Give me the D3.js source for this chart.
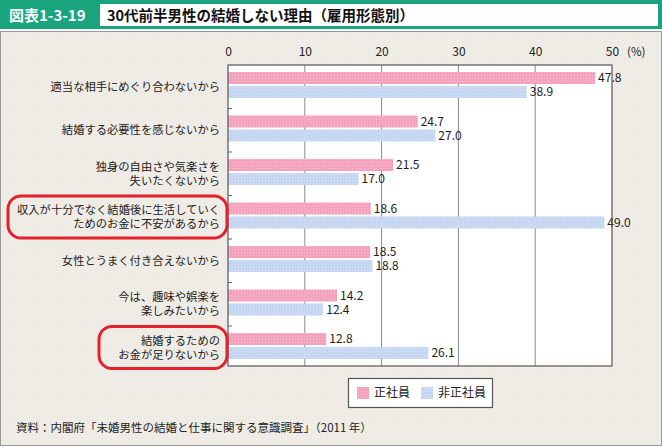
<!DOCTYPE html>
<html>
<head>
<meta charset="utf-8">
<script src="https://cdn.jsdelivr.net/npm/d3@7"></script>
<style>
  html, body { margin: 0; padding: 0; background: #fff; }
  svg { display: block; font-family: "Noto Sans CJK JP", "Noto Sans", sans-serif; }
</style>
</head>
<body>
<svg id="chart"></svg>
<script>
// categories (top to bottom), label lines
const categories = [
  ["適当な相手にめぐり合わないから"],
  ["結婚する必要性を感じないから"],
  ["独身の自由さや気楽さを", "失いたくないから"],
  ["収入が十分でなく結婚後に生活していく", "ためのお金に不安があるから"],
  ["女性とうまく付き合えないから"],
  ["今は、趣味や娯楽を", "楽しみたいから"],
  ["結婚するための", "お金が足りないから"]
]
const seriesNames = ["正社員", "非正社員"]
const regular = [47.8, 24.7, 21.5, 18.6, 18.5, 14.2, 12.8]
const nonRegular = [38.9, 27.0, 17.0, 49.0, 18.8, 12.4, 26.1]
const xTicks = [0, 10, 20, 30, 40, 50]
const highlighted = [3, 6]

const width = 662, height = 447
const colors = ["#f4a2bd", "#c4d6f2"]

const svg = d3.select("#chart").attr("width", width).attr("height", height)

// textures
const defs = svg.append("defs")
const makeDots = (id, base, dot) => {
  const p = defs.append("pattern").attr("id", id)
    .attr("width", 3).attr("height", 3).attr("patternUnits", "userSpaceOnUse")
  p.append("rect").attr("width", 3).attr("height", 3).attr("fill", base)
  p.append("rect").attr("x", 1).attr("y", 1).attr("width", 1).attr("height", 1).attr("fill", dot)
}
makeDots("pinkDots", colors[0], "#f8c4d4")
makeDots("blueDots", colors[1], "#dde7f7")
makeDots("bgDots", "#eeebe5", "#f5f2ee")
const fills = ["url(#pinkDots)", "url(#blueDots)"]

// header
svg.append("rect").attr("x", 0).attr("y", 0).attr("width", width).attr("height", 29).attr("fill", "#19a47e")
svg.append("rect").attr("x", 100).attr("y", 4).attr("width", 558).attr("height", 22).attr("fill", "#fff")
svg.append("text").attr("x", 9).attr("y", 21)
  .attr("fill", "#fff").attr("font-size", 15).attr("font-weight", "bold")
  .text("図表1-3-19")
svg.append("text").attr("x", 107).attr("y", 21)
  .attr("fill", "#111").attr("font-size", 14.5).attr("font-weight", "bold")
  .text("30代前半男性の結婚しない理由（雇用形態別）")

// panel
svg.append("rect").attr("x", 0.5).attr("y", 31.5).attr("width", width - 1).attr("height", height - 33)
  .attr("fill", "url(#bgDots)").attr("stroke", "#9a9a9a")

const plotTop = 65, plotBottom = 366
const x = d3.scaleLinear().domain([0, 50]).range([228, 612])
const y = d3.scaleBand().domain(d3.range(categories.length)).range([plotTop, 369.5])
const barH = 12

const g = svg.append("g")

g.append("rect").attr("x", x(0)).attr("y", plotTop)
  .attr("width", x(50) - x(0)).attr("height", plotBottom - plotTop)
  .attr("fill", "#fff")

// grid lines
g.selectAll(".grid").data(xTicks.slice(1, -1)).join("line")
  .attr("x1", d => x(d)).attr("x2", d => x(d))
  .attr("y1", plotTop).attr("y2", plotBottom)
  .attr("stroke", "#8a8a8a").attr("stroke-width", 1)

// top axis labels
const axis = d3.axisTop(x).tickValues(xTicks).tickSize(0).tickPadding(0).tickFormat(d3.format("d"))
const ax = g.append("g").attr("transform", `translate(0,${plotTop - 9})`).call(axis)
ax.select(".domain").remove()
ax.selectAll("text").attr("font-size", 12).attr("fill", "#222")
  .attr("font-family", "\"Noto Sans CJK JP\", sans-serif")
svg.append("text").attr("x", 627).attr("y", plotTop - 9)
  .attr("font-size", 11.5).attr("fill", "#222").text("(%)")

// left category ticks
g.selectAll(".ytick").data(d3.range(1, categories.length)).join("line")
  .attr("x1", x(0)).attr("x2", x(0) + 4)
  .attr("y1", d => y(d)).attr("y2", d => y(d))
  .attr("stroke", "#666")

// bars
const rows = categories.map((c, i) => ({ i, vals: [regular[i], nonRegular[i]] }))
const barG = g.selectAll(".row").data(rows).join("g")
  .attr("transform", d => `translate(0,${y(d.i)})`)

barG.selectAll("rect").data(d => d.vals).join("rect")
  .attr("x", x(0))
  .attr("y", (d, j) => 7 + j * 14)
  .attr("width", d => x(d) - x(0))
  .attr("height", barH)
  .attr("fill", (d, j) => fills[j])

barG.selectAll(".val").data(d => d.vals).join("text")
  .attr("x", d => x(d) + 3)
  .attr("y", (d, j) => 7 + j * 14 + barH / 2)
  .attr("dy", "0.36em")
  .attr("font-size", 12).attr("fill", "#222")
  .text(d => d.toFixed(1))

// frame
g.append("rect").attr("x", x(0)).attr("y", plotTop)
  .attr("width", x(50) - x(0)).attr("height", plotBottom - plotTop)
  .attr("fill", "none").attr("stroke", "#555").attr("stroke-width", 1.2)

// category labels
const labG = g.selectAll(".lab").data(categories).join("text")
  .attr("text-anchor", "end").attr("font-size", 11.3).attr("fill", "#222")
labG.selectAll("tspan").data(d => d).join("tspan")
  .attr("x", 220)
  .attr("y", function (d, k) {
    const i = categories.indexOf(d3.select(this.parentNode).datum())
    const lines = categories[i].length
    const c = y(i) + 21.5
    return c + (k - (lines - 1) / 2) * 14
  })
  .attr("dy", "0.36em")
  .text(d => d)

// red highlight boxes
const boxX = { 3: 8, 6: 99 }
g.selectAll(".hl").data(highlighted).join("rect")
  .attr("x", d => boxX[d])
  .attr("y", d => y(d) + 0.5)
  .attr("width", d => 227 - boxX[d])
  .attr("height", 42)
  .attr("rx", 13)
  .attr("fill", "none").attr("stroke", "#e5202a").attr("stroke-width", 3)

// legend
const leg = svg.append("g").attr("transform", "translate(348,378)")
leg.append("rect").attr("x", 0.5).attr("y", 0.5).attr("width", 144).attr("height", 29)
  .attr("fill", "#fff").attr("stroke", "#555").attr("stroke-width", 1.2)
const legX = [9, 73]
seriesNames.forEach((name, j) => {
  leg.append("rect").attr("x", legX[j]).attr("y", 9).attr("width", 12).attr("height", 12).attr("fill", fills[j])
  leg.append("text").attr("x", legX[j] + 17).attr("y", 15).attr("dy", "0.36em")
    .attr("font-size", 12).attr("fill", "#222").text(name)
})

// source
svg.append("text").attr("x", 16).attr("y", 428).attr("dy", "0.36em")
  .attr("font-size", 11.5).attr("fill", "#222")
  .text("資料：内閣府「未婚男性の結婚と仕事に関する意識調査」（2011 年）")
</script>
</body>
</html>
